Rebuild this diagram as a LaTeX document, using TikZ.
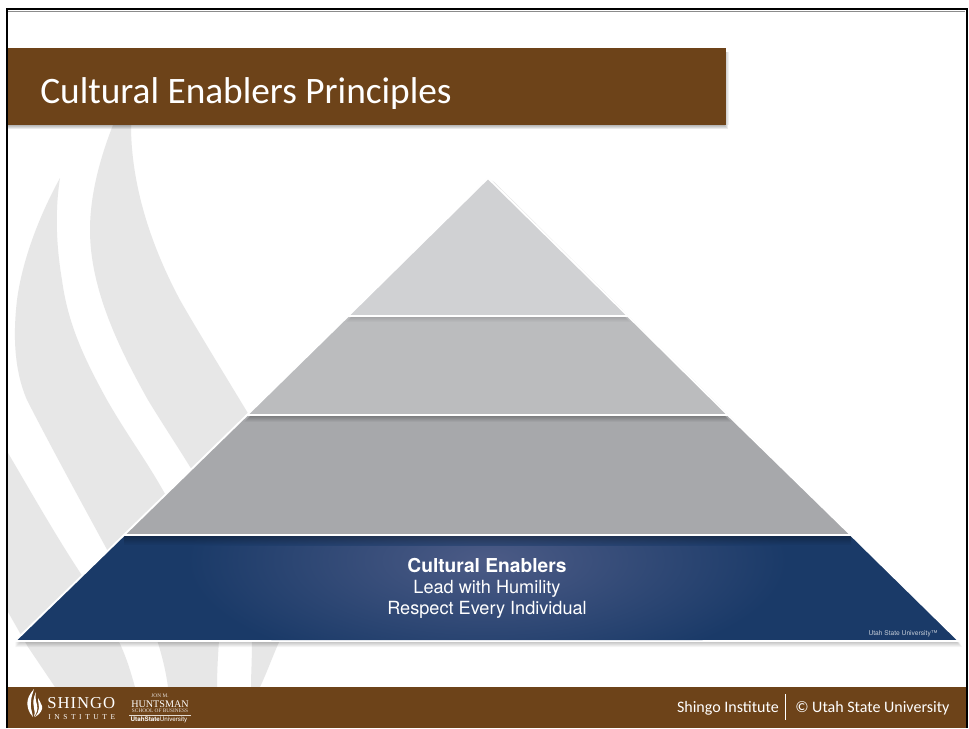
\documentclass[tikz,border=0pt]{standalone}
\usepackage{fontspec}
\setmainfont{Carlito}
\newfontfamily\pyrfont{TeX Gyre Heros}
\newfontfamily\logofont{Liberation Serif}
\newfontfamily\logowide[LetterSpace=6]{Liberation Serif}
\newfontfamily\logowider[LetterSpace=48]{Liberation Serif}
\definecolor{brownbar}{HTML}{6D4319}
\definecolor{swoosh}{HTML}{E7E7E7}
\definecolor{tierone}{HTML}{D0D1D3}
\definecolor{tiertwo}{HTML}{BBBCBE}
\definecolor{tierthree}{HTML}{A7A8AB}
\definecolor{tierbase}{HTML}{1A3A68}
\definecolor{tierglow}{HTML}{4C5B86}
\begin{document}
\begin{tikzpicture}[x=0.75pt,y=-0.75pt]
  \tikzstyle{bar}=[fill=brownbar]
  \tikzstyle{band}=[fill=swoosh]
  \tikzstyle{tier}=[draw=white, line width=1.4pt, line join=miter]
  \tikzstyle{pyrtext}=[text=white, inner sep=0pt, anchor=base, font=\pyrfont\fontsize{13.6}{15}\selectfont]
  \tikzstyle{foot}=[text=white, inner sep=0pt, font=\fontsize{12}{14}\selectfont]
  \tikzstyle{logo}=[text=white, inner sep=0pt, anchor=west]

  \useasboundingbox (0,0) rectangle (969,728);
  \fill[white] (0,0) rectangle (969,728);

  % background swooshes
  \path[band] (60,178) .. controls (38,218) and (22,262) .. (17,300)
    .. controls (13,335) and (14,370) .. (27,400)
    .. controls (50,445) and (80,500) .. (110,555) -- (170,503)
    .. controls (148,462) and (130,440) .. (107,400)
    .. controls (85,360) and (68,325) .. (62,280)
    .. controls (56,245) and (55,210) .. (60,178) -- cycle;
  \path[band] (113,125) .. controls (100,158) and (90,195) .. (90,230)
    .. controls (90,290) and (120,350) .. (148,400)
    .. controls (165,428) and (180,450) .. (195,475) -- (255,425)
    .. controls (225,375) and (200,335) .. (180,300)
    .. controls (140,225) and (131,165) .. (131,125) -- cycle;
  \path[band] (8,453) .. controls (30,490) and (55,535) .. (85,580)
    -- (110,625) .. controls (125,650) and (130,670) .. (135,687)
    -- (55,687) -- (28,647) -- (8,612) -- cycle;
  \path[band] (157,640) .. controls (162,655) and (166,672) .. (168,687)
    -- (217,687) .. controls (217,672) and (218,655) .. (219,640) -- cycle;
  \path[band] (252,640) .. controls (252,660) and (251,675) .. (251,687)
    -- (260,687) .. controls (268,670) and (273,655) .. (280,640) -- cycle;

  % title and footer bars
  \foreach \i in {1,...,4}
    \fill[black, opacity=0.08] (7,125) rectangle (724+\i,125+\i);
  \foreach \i in {1,...,3}
    \fill[black, opacity=0.06] (726,52) rectangle (726+\i,125);
  \fill[bar] (7,48) rectangle (726,125);
  \node[text=white, inner sep=0pt, anchor=base west, font=\fontsize{28}{32}\selectfont]
    (title) at (40,103) {Cultural Enablers Principles};
  \fill[bar] (7,687) rectangle (966,728);

  % pyramid shadow
  \foreach \i in {1,...,6}
    \fill[black, opacity=0.045] (488+\i,178+0.6*\i) -- (959+0.5*\i,641+\i) -- (15,641+\i) -- cycle;

  % tiers
  \path[tier, fill=tierone]   (488,178) -- (628,316) -- (348,316) -- cycle;
  \path[tier, fill=tiertwo]   (348,316) -- (628,316) -- (728,415) -- (247,415) -- cycle;
  \path[tier, fill=tierthree] (247,415) -- (728,415) -- (851,535) -- (124,535) -- cycle;
  \path[tier, fill=tierbase]  (124,535) -- (851,535) -- (959,641) -- (15,641) -- cycle;

  % glow and the soft edges under each step
  \begin{scope}
    \clip (125,536) -- (850,536) -- (957,640) -- (18,640) -- cycle;
    \shade[inner color=tierglow, outer color=tierbase] (487,560) ellipse (300 and 115);
    \shade[top color=black!55!tierbase, bottom color=tierbase, opacity=0.5] (124,536) rectangle (851,545);
  \end{scope}
  \shade[top color=black!25!tierthree, bottom color=tierthree] (250,416) -- (725,416) -- (731,422) -- (244,422) -- cycle;
  \shade[top color=black!12!tiertwo, bottom color=tiertwo] (351,317) -- (625,317) -- (630,322) -- (346,322) -- cycle;
  \draw[tier] (124,535) -- (851,535);
  \draw[tier] (247,415) -- (728,415);
  \draw[tier] (348,316) -- (628,316);

  \node[pyrtext, font=\pyrfont\bfseries\fontsize{14.4}{16}\selectfont] (head) at (487,572) {Cultural Enablers};
  \node[pyrtext] (lead) at (487,593) {Lead with Humility};
  \node[pyrtext] (respect) at (487,614) {Respect Every Individual};
  \node[text=white!75!tierbase, inner sep=0pt, font=\pyrfont\fontsize{5}{6}\selectfont]
    (usu) at (903,634) {Utah State University™};

  % footer text
  \node[foot, anchor=east] (inst) at (779,708) {Shingo Institute};
  \node[foot, anchor=west] (usucopy) at (795,708) {© Utah State University};
  \draw[white, line width=0.7pt] (785,694) -- (785,720);

  % logo
  \fill[white] (34,689) .. controls (28,696) and (26,702) .. (28,708) .. controls (29,712) and (31,715) .. (33,717)
    .. controls (32,711) and (30,707) .. (31,702) .. controls (31,697) and (33,693) .. (34,689) -- cycle;
  \fill[white] (36,692) .. controls (33,698) and (33,703) .. (34,708) .. controls (35,711) and (35,714) .. (34,717)
    .. controls (37,713) and (38,709) .. (37,705) .. controls (36,701) and (35,697) .. (36,692) -- cycle;
  \fill[white] (38,698) .. controls (38,702) and (39,705) .. (39,708) .. controls (39,711) and (37,714) .. (35,717)
    .. controls (40,714) and (43,710) .. (42,706) .. controls (41,703) and (39,700) .. (38,698) -- cycle;
  \node[logo, font=\logowide\fontsize{12.5}{15}\selectfont] (shingo) at (47,703) {SHINGO};
  \node[logo, font=\logowider\fontsize{5.6}{7}\selectfont] (institute) at (48,717) {INSTITUTE};
  \node[text=white!85!brownbar, inner sep=0pt, font=\logofont\fontsize{4}{5}\selectfont] (jon) at (160,696) {JON M.};
  \node[text=white, inner sep=0pt, font=\logofont\fontsize{7.6}{9}\selectfont] (huntsman) at (160,704) {HUNTSMAN};
  \node[text=white!85!brownbar, inner sep=0pt, font=\logofont\fontsize{4}{5}\selectfont] (school) at (160,711) {SCHOOL OF BUSINESS};
  \draw[white!80!brownbar, line width=0.4pt] (129,715) -- (191,715);
  \node[text=white, inner sep=0pt, font=\pyrfont\fontsize{4.7}{5}\selectfont] (utah) at (159,720) {\textbf{UtahState}University};

  % slide frame
  \draw[black!45, line width=0.6pt] (8,11) -- (965,11);
  \draw[black, line width=1.5pt] (7,728) -- (7,9) -- (966.5,9) -- (966.5,728);
\end{tikzpicture}
\end{document}
